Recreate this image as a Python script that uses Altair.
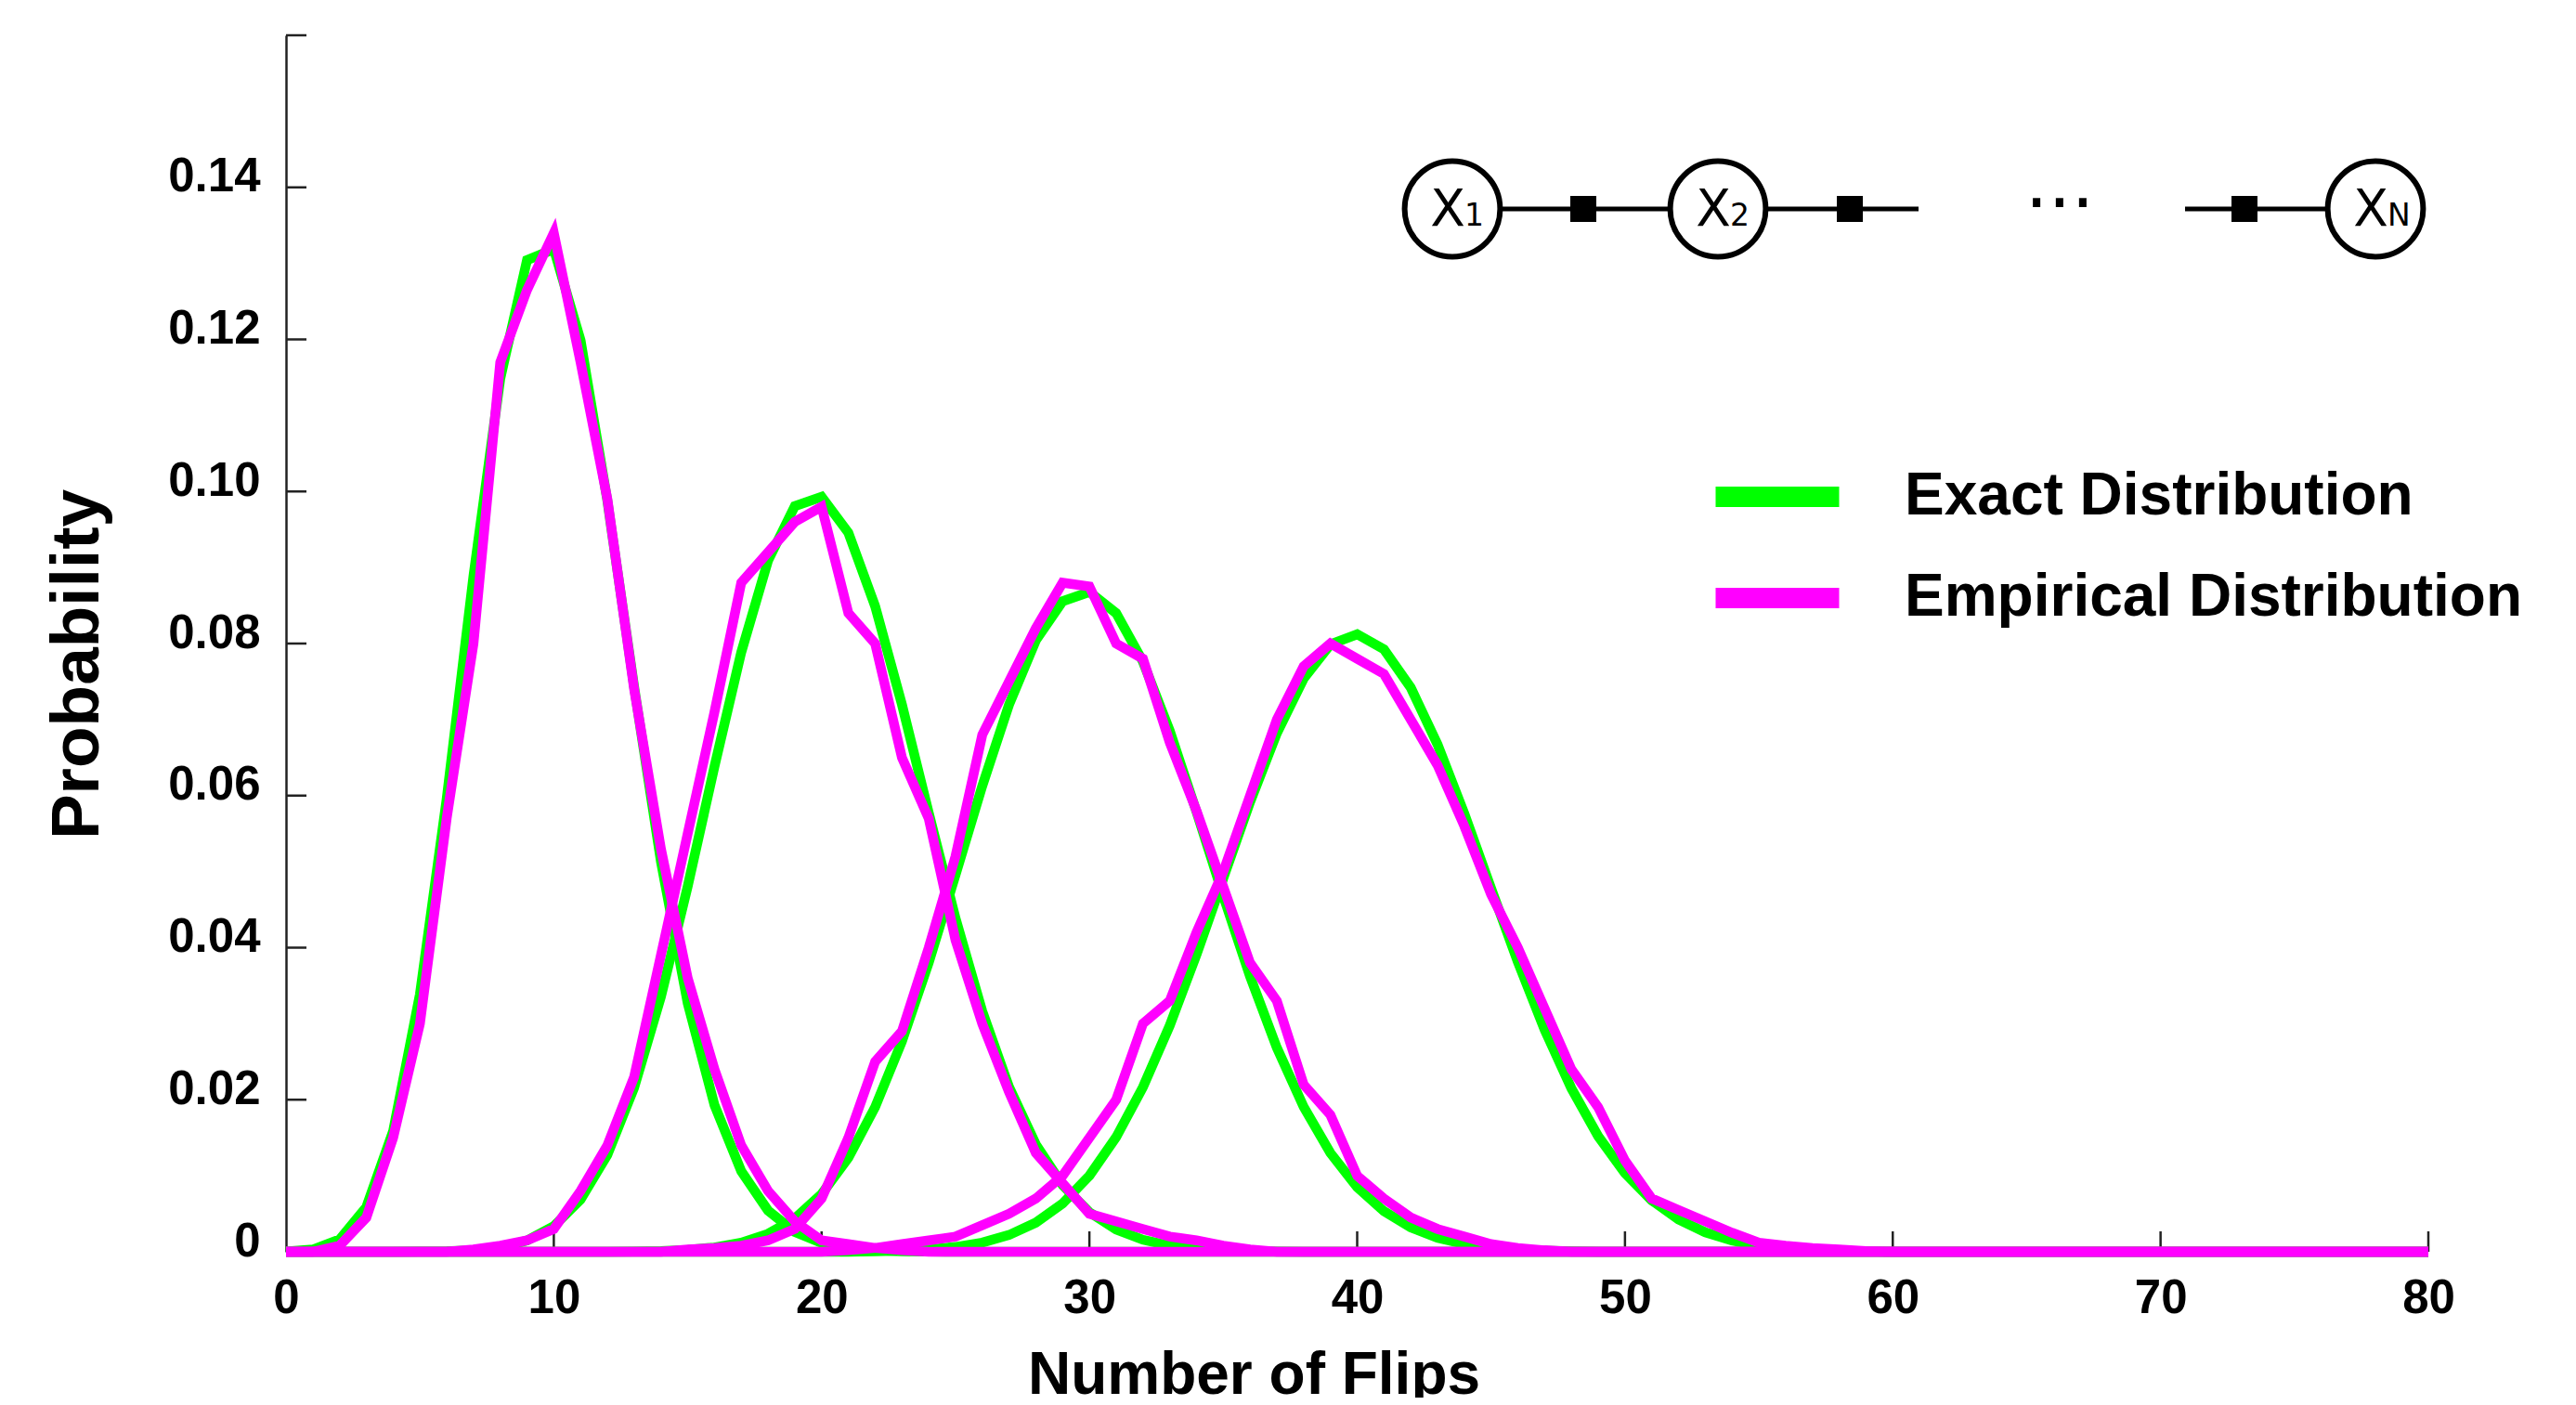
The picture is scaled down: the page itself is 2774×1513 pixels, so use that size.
import altair as alt
import pandas as pd

# ---------------- data ----------------
flips = list(range(0, 81))
series_names = ["Exact Distribution", "Empirical Distribution"]
curve_names = ["p10", "p20", "p30", "p40"]
x_tick_values = [0, 10, 20, 30, 40, 50, 60, 70, 80]
y_tick_values = [0, 0.02, 0.04, 0.06, 0.08, 0.10, 0.12, 0.14, 0.16]

# exact curves: (first flips index, values)
exact_p10 = (0, [0.00003, 0.00030, 0.00162, 0.00589, 0.01588, 0.03387, 0.05958, 0.08890, 0.11482, 0.13042,
                 0.13187, 0.11988, 0.09879, 0.07430, 0.05130, 0.03268, 0.01929, 0.01059, 0.00543, 0.00260,
                 0.00117, 0.00050, 0.00020, 0.00007, 0.00003])
exact_p20 = (5, [0.00002, 0.00006, 0.00020, 0.00058, 0.00148, 0.00336, 0.00688, 0.01275, 0.02158, 0.03353,
                 0.04806, 0.06383, 0.07885, 0.09090, 0.09807, 0.09930, 0.09457, 0.08490, 0.07198, 0.05773,
                 0.04388, 0.03164, 0.02168, 0.01413, 0.00877, 0.00519, 0.00293, 0.00158, 0.00081, 0.00040,
                 0.00019, 0.00009, 0.00004])
exact_p30 = (13, [0.00004, 0.00010, 0.00025, 0.00056, 0.00119, 0.00236, 0.00437, 0.00758, 0.01237, 0.01904,
                  0.02767, 0.03804, 0.04956, 0.06127, 0.07197, 0.08041, 0.08556, 0.08678, 0.08399, 0.07761,
                  0.06854, 0.05788, 0.04678, 0.03620, 0.02684, 0.01907, 0.01299, 0.00849, 0.00533, 0.00321,
                  0.00185, 0.00103, 0.00055, 0.00028, 0.00014, 0.00007])
exact_p40 = (22, [0.00006, 0.00015, 0.00031, 0.00063, 0.00121, 0.00221, 0.00383, 0.00634, 0.01001, 0.01507,
                  0.02166, 0.02975, 0.03908, 0.04913, 0.05914, 0.06820, 0.07538, 0.07989, 0.08122, 0.07924,
                  0.07421, 0.06673, 0.05763, 0.04781, 0.03811, 0.02919, 0.02149, 0.01520, 0.01034, 0.00676,
                  0.00425, 0.00256, 0.00149, 0.00083, 0.00044, 0.00023, 0.00011, 0.00005])

# empirical curves
emp_p10 = (2, [0.0008, 0.0045, 0.015, 0.030, 0.057, 0.080, 0.117, 0.1265, 0.134, 0.117,
               0.099, 0.074, 0.053, 0.036, 0.024, 0.014, 0.008, 0.004, 0.0015, 0.001,
               0.0005, 0.0002])
emp_p20 = (7, [0.0003, 0.0008, 0.0015, 0.003, 0.008, 0.014, 0.023, 0.039, 0.055, 0.071,
               0.088, 0.092, 0.096, 0.098, 0.084, 0.080, 0.065, 0.057, 0.041, 0.030,
               0.021, 0.013, 0.009, 0.005, 0.004, 0.003, 0.002, 0.0015, 0.0008, 0.0003])
emp_p30 = (15, [0.0003, 0.0005, 0.0008, 0.0015, 0.003, 0.007, 0.015, 0.025, 0.029, 0.040,
                0.052, 0.068, 0.075, 0.082, 0.088, 0.0875, 0.080, 0.078, 0.067, 0.058,
                0.048, 0.038, 0.033, 0.022, 0.018, 0.010, 0.007, 0.0045, 0.003, 0.002,
                0.001, 0.0005, 0.0002])
emp_p40 = (21, [0.0002, 0.0005, 0.001, 0.0015, 0.002, 0.0035, 0.005, 0.007, 0.010, 0.015,
                0.020, 0.030, 0.033, 0.042, 0.050, 0.060, 0.070, 0.077, 0.080, 0.078,
                0.076, 0.070, 0.064, 0.056, 0.047, 0.040, 0.032, 0.024, 0.019, 0.012,
                0.007, 0.0055, 0.004, 0.0025, 0.0012, 0.0008, 0.0005, 0.0003, 0.0001])

exact_curves = [exact_p10, exact_p20, exact_p30, exact_p40]
emp_curves = [emp_p10, emp_p20, emp_p30, emp_p40]


def full(curve):
    start, vals = curve
    out = [0.0] * len(flips)
    for i, v in enumerate(vals):
        out[start + i] = v
    return out


def frame(curves, series):
    rows = []
    for name, c in zip(curve_names, curves):
        for k, v in zip(flips, full(c)):
            rows.append({"flips": k, "prob": v, "curve": name, "series": series})
    return pd.DataFrame(rows)


df_exact = frame(exact_curves, series_names[0])
df_emp = frame(emp_curves, series_names[1])

# ---------------- layout ----------------
W, H = 2307, 1310
FONT = "Liberation Sans"
AXIS_COLOR = "#222222"
LINE_W = 10.5

x_scale = alt.Scale(domain=[0, 80], nice=False, zero=False)
y_scale = alt.Scale(domain=[0, 0.16], nice=False)

x_axis = alt.Axis(
    values=x_tick_values, title="Number of Flips", grid=False, domain=False,
    ticks=False, tickSize=0, labelFlush=False, labelOverlap=False,
    labelFont=FONT, labelFontSize=51, labelFontWeight="bold", labelColor="black", labelPadding=25,
    titleFont=FONT, titleFontSize=64, titleFontWeight="bold", titleColor="black",
    titleX=1042, titleY=152, titleAlign="center", titleBaseline="alphabetic",
)
y_axis = alt.Axis(
    values=y_tick_values, title="Probability", grid=False, domain=True,
    domainColor=AXIS_COLOR, domainWidth=2.5, ticks=False, tickSize=0,
    labelFlush=False, labelOverlap=False,
    labelExpr="datum.value > 0.155 ? '' : (datum.value == 0 ? '0' : format(datum.value, '.2f'))",
    labelFont=FONT, labelFontSize=51, labelFontWeight="bold", labelColor="black",
    labelPadding=28, labelBaseline="middle", labelOffset=-11,
    titleFont=FONT, titleFontSize=73, titleFontWeight="bold", titleColor="black",
    titleAngle=270, titleX=-203, titleY=677, titleAlign="center", titleBaseline="alphabetic",
)

x_enc = alt.X("flips:Q", scale=x_scale, axis=x_axis)
y_enc = alt.Y("prob:Q", scale=y_scale, axis=y_axis)

color_enc = alt.Color(
    "series:N",
    scale=alt.Scale(domain=series_names, range=["#00ff00", "#ff00ff"]),
    legend=alt.Legend(
        title=None, orient="none", legendX=1574, legendY=465, direction="vertical",
        symbolType="M-9.5,0L9.5,0", symbolSize=196, symbolStrokeWidth=22, symbolOpacity=1,
        labelFont=FONT, labelFontSize=64, labelFontWeight="bold", labelColor="black",
        labelOffset=105, labelLimit=0, rowPadding=21, padding=0,
    ),
)

# tick marks (drawn inward)
df_ytick = pd.DataFrame({"prob": y_tick_values[1:]})
df_xtick = pd.DataFrame({"flips": x_tick_values[1:]})
ytick_layer = alt.Chart(df_ytick).mark_rule(color=AXIS_COLOR, strokeWidth=2.5).encode(
    y=y_enc, x=alt.value(0), x2=alt.value(22))
xtick_layer = alt.Chart(df_xtick).mark_rule(color=AXIS_COLOR, strokeWidth=2.5).encode(
    x=x_enc, y=alt.value(H - 22), y2=alt.value(H))

exact_layer = alt.Chart(df_exact).mark_line(strokeWidth=LINE_W).encode(
    x=x_enc, y=y_enc, color=color_enc, detail="curve:N")
emp_layer = alt.Chart(df_emp).mark_line(strokeWidth=LINE_W).encode(
    x=x_enc, y=y_enc, color=color_enc, detail="curve:N")


# ---------------- factor-graph decoration (pixel positions inside plot) ----------------
def fx(px):
    return px / W * 80


def fy(py):
    return (H - py) / H * 0.16


cy = 187
circle_px = [1256, 1542, 2250]
square_px = [1397, 1684, 2109]
edge_px = [(1256, 1542), (1542, 1758), (2045, 2250)]
node_subs = ["1", "2", "N"]

df_nodes = pd.DataFrame({"flips": [fx(p) for p in circle_px], "prob": [fy(cy)] * 3})
df_squares = pd.DataFrame({"flips": [fx(p) for p in square_px], "prob": [fy(cy)] * 3})
df_edges = pd.DataFrame({"flips": [fx(a) for a, b in edge_px], "flips2": [fx(b) for a, b in edge_px],
                         "prob": [fy(cy)] * 3})
df_xlab = pd.DataFrame({"flips": [fx(p - 5) for p in circle_px], "prob": [fy(cy + 18)] * 3,
                        "t": ["X"] * 3})
df_sub = pd.DataFrame({"flips": [fx(p + 13) for p in circle_px], "prob": [fy(cy + 18)] * 3,
                       "t": node_subs})
df_dots = pd.DataFrame({"flips": [fx(1910)], "prob": [fy(cy - 2)], "t": ["..."]})

edge_layer = alt.Chart(df_edges).mark_rule(color="black", strokeWidth=5).encode(
    x=x_enc, x2="flips2:Q", y=y_enc)
node_layer = alt.Chart(df_nodes).mark_point(
    shape="circle", size=10570, filled=False, fill="white", stroke="black",
    strokeWidth=6, opacity=1).encode(x=x_enc, y=y_enc)
square_layer = alt.Chart(df_squares).mark_point(
    shape="square", size=784, filled=True, color="black", opacity=1).encode(x=x_enc, y=y_enc)
xlab_layer = alt.Chart(df_xlab).mark_text(
    font="DejaVu Sans", fontSize=55, align="center", baseline="alphabetic", color="black").encode(
    x=x_enc, y=y_enc, text="t:N")
sub_layer = alt.Chart(df_sub).mark_text(
    font="DejaVu Sans", fontSize=33, align="left", baseline="alphabetic", color="black").encode(
    x=x_enc, y=y_enc, text="t:N")
dots_layer = alt.Chart(df_dots).mark_text(
    font="DejaVu Sans", fontSize=78, align="center", baseline="alphabetic", color="black").encode(
    x=x_enc, y=y_enc, text="t:N")

chart = alt.layer(
    ytick_layer, xtick_layer, exact_layer, emp_layer,
    edge_layer, node_layer, square_layer, xlab_layer, sub_layer, dots_layer,
).properties(
    width=W, height=H,
    background="white",
    autosize=alt.AutoSizeParams(type="none"),
    padding={"left": 300, "top": 30, "right": 150, "bottom": 157},
).configure_view(stroke="transparent", strokeWidth=0)

chart.save("out.html", embed_options={"renderer": "svg", "actions": False})
